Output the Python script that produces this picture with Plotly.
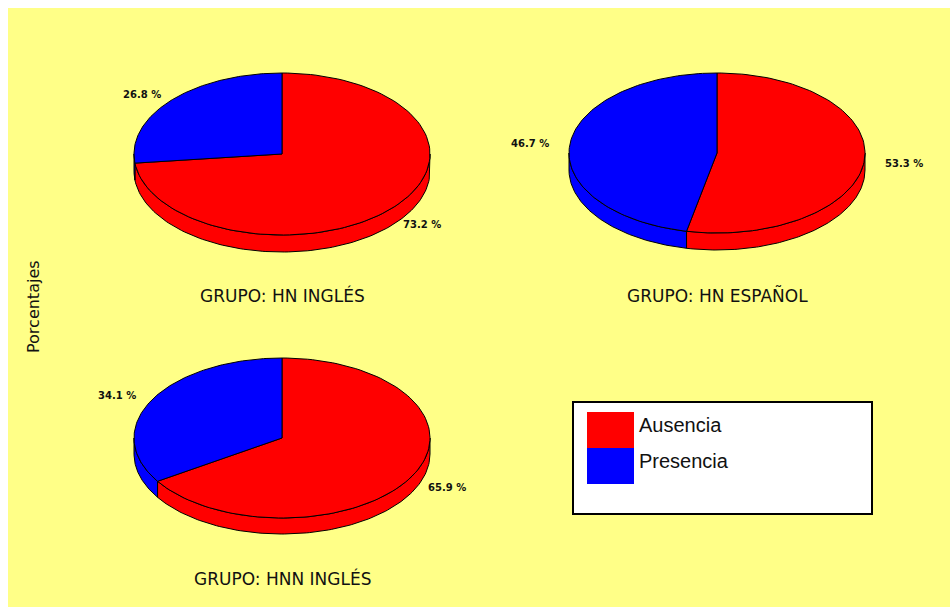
import numpy as np
import plotly.graph_objects as go

# --- data -------------------------------------------------------------
categories = ["Ausencia", "Presencia"]
groups = ["GRUPO: HN INGLÉS", "GRUPO: HN ESPAÑOL", "GRUPO: HNN INGLÉS"]
ausencia = [73.2, 53.3, 65.9]
presencia = [26.8, 46.7, 34.1]
y_title = "Porcentajes"

# --- style / layout ---------------------------------------------------
W, H = 950, 607
colors = ["#FF0000", "#0000FF"]
bg_yellow = "rgb(255,255,135)"
# pie placement in pixel space: (cx, cy, rx, ry, depth, title_y)
pie_geom = [
    (282, 154, 148, 81, 17, 295),
    (717, 153, 148, 80, 17, 295),
    (282, 438, 148, 80, 16, 578),
]
label_font = dict(family="DejaVu Sans", size=10, color="#111111",
                  weight="bold")
title_font = dict(family="DejaVu Sans", size=17, color="#111111")

fig = go.Figure()


def arc(cx, cy, rx, ry, a0, a1, n=120):
    t = np.radians(np.linspace(a0, a1, n))
    return cx + rx * np.cos(t), cy - ry * np.sin(t)


def add_poly(xs, ys, color):
    fig.add_trace(go.Scatter(
        x=np.append(xs, xs[0]), y=np.append(ys, ys[0]),
        mode="lines", fill="toself", fillcolor=color,
        line=dict(color="black", width=1), hoverinfo="skip",
        showlegend=False))


annotations = []
for g, (cx, cy, rx, ry, depth, ty) in enumerate(pie_geom):
    vals = [ausencia[g], presencia[g]]
    # slices run clockwise from twelve o'clock
    spans = []
    start = 90.0
    for v in vals:
        end = start - 360.0 * v / 100.0
        spans.append((end, start))
        start = end

    # visible side wall (front, lower half of the ellipse)
    for (a0, a1), col in zip(spans, colors):
        for k in range(-2, 2):
            lo, hi = max(a0, -180 + 360 * k), min(a1, 360 * k)
            if hi - lo > 0.01:
                xt, yt = arc(cx, cy, rx, ry, lo, hi)
                xs = np.concatenate([xt, xt[::-1]])
                ys = np.concatenate([yt, (yt + depth)[::-1]])
                add_poly(xs, ys, col)

    # top faces
    for (a0, a1), col in zip(spans, colors):
        xt, yt = arc(cx, cy, rx, ry, a1, a0)
        add_poly(np.concatenate([[cx], xt]), np.concatenate([[cy], yt]), col)

    # percentage labels outside each slice
    for (a0, a1), v in zip(spans, vals):
        m = np.radians((a0 + a1) / 2)
        s = np.sin(m)
        lx = cx + rx * 1.27 * np.cos(m)
        ly = cy - ry * 1.1 * s + depth * max(0.0, -s)
        annotations.append(dict(x=lx, y=ly, xref="x", yref="y",
                                text=f"{v:.1f} %", showarrow=False,
                                font=label_font, xanchor="center",
                                yanchor="middle"))

    annotations.append(dict(x=cx, y=ty, xref="x", yref="y", text=groups[g],
                            showarrow=False, font=title_font,
                            xanchor="center", yanchor="middle"))

# axis title
annotations.append(dict(x=33, y=307, xref="x", yref="y", text=y_title,
                        textangle=-90, showarrow=False,
                        font=dict(family="DejaVu Sans", size=16,
                                  color="#111111"),
                        xanchor="center", yanchor="middle"))

# legend box
shapes = [
    dict(type="rect", xref="x", yref="y", x0=8, y0=8, x1=W, y1=H,
         fillcolor=bg_yellow, line=dict(width=0), layer="below"),
    dict(type="rect", xref="x", yref="y", x0=573, y0=402, x1=872, y1=514,
         fillcolor="white", line=dict(color="black", width=2), layer="below"),
]
for i, (cat, col) in enumerate(zip(categories, colors)):
    y0 = 412 + 36 * i
    shapes.append(dict(type="rect", xref="x", yref="y", x0=587, y0=y0,
                       x1=634, y1=y0 + 36, fillcolor=col,
                       line=dict(width=0), layer="above"))
    annotations.append(dict(x=637, y=y0 + 13, xref="x", yref="y", text=cat,
                            showarrow=False,
                            font=dict(family="Liberation Sans", size=20,
                                      color="#111111"),
                            xanchor="left", yanchor="middle"))

fig.update_layout(
    width=W, height=H,
    margin=dict(l=0, r=0, t=0, b=0),
    paper_bgcolor="white", plot_bgcolor="rgba(0,0,0,0)",
    xaxis=dict(range=[0, W], visible=False, fixedrange=True),
    yaxis=dict(range=[H, 0], visible=False, fixedrange=True),
    shapes=shapes, annotations=annotations, showlegend=False,
)

fig.write_html("out.html")
